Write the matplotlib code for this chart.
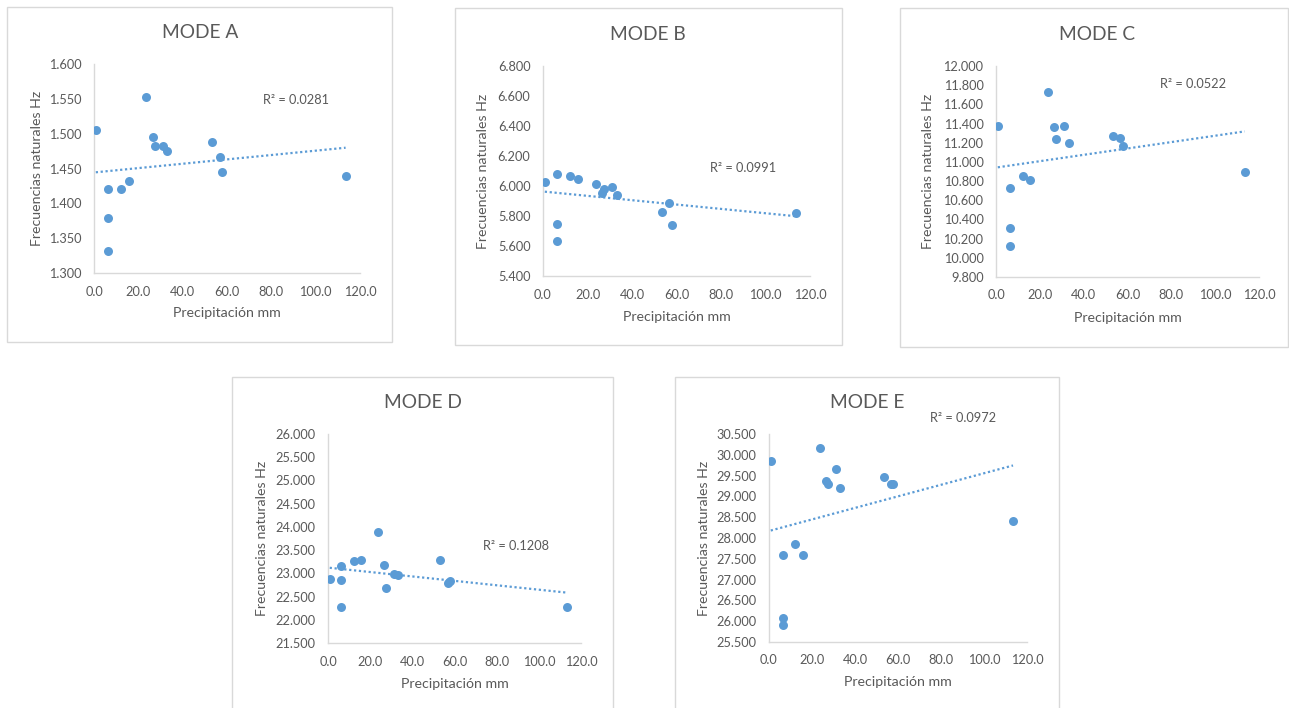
import numpy as np
import matplotlib
matplotlib.use("Agg")
import matplotlib.pyplot as plt
from matplotlib.patches import Rectangle
from matplotlib.ticker import FormatStrFormatter, MultipleLocator

# ---- data ----
precip = [0.8, 6.3, 6.3, 6.3, 12.2, 15.7, 23.6, 26.4, 27.6, 31.2, 33.1, 53.3, 56.7, 57.8, 113.5]
mode_a = [1.505, 1.420, 1.379, 1.331, 1.420, 1.432, 1.553, 1.495, 1.482, 1.482, 1.475, 1.488, 1.466, 1.445, 1.439]
mode_b = [6.028, 6.077, 5.750, 5.634, 6.068, 6.050, 6.014, 5.954, 5.983, 5.994, 5.939, 5.827, 5.890, 5.738, 5.821]
mode_c = [11.377, 10.730, 10.312, 10.124, 10.855, 10.810, 11.732, 11.360, 11.234, 11.370, 11.196, 11.269, 11.252, 11.161, 10.897]
mode_d = [22.877, 23.163, 22.855, 22.275, 23.271, 23.285, 23.887, 23.178, 22.676, 22.984, 22.963, 23.285, 22.800, 22.835, 22.275]
mode_e = [29.842, 27.603, 26.086, 25.917, 27.852, 27.603, 30.171, 29.376, 29.304, 29.649, 29.200, 29.473, 29.296, 29.296, 28.397]
titles = ["MODE A", "MODE B", "MODE C", "MODE D", "MODE E"]
r2_labels = ["R² = 0.0281", "R² = 0.0991", "R² = 0.0522", "R² = 0.1208", "R² = 0.0972"]
y_ranges = [(1.3, 1.6, 0.05), (5.4, 6.8, 0.2), (9.8, 12.0, 0.2), (21.5, 26.0, 0.5), (25.5, 30.5, 0.5)]
x_ticks = [0, 20, 40, 60, 80, 100, 120]
xlabel = "Precipitación mm"
ylabel = "Frecuencias naturales Hz"

plt.rcParams['font.family'] = ['Lato', 'DejaVu Sans']

W, H = 1289, 708
fig = plt.figure(figsize=(W / 100, H / 100), dpi=100)
fig.patch.set_facecolor("white")

def fx(x):
    return x / W

def fy(y):
    return 1 - y / H

# layout (pixel coords): panel border, axes box, title pos, r2 pos, ylabel x, xlabel y
panels = [
    dict(border=(7, 7, 392, 342), ax=(94, 64, 360, 273), title=(200, 33), r2=(263, 100), ylab=37, xlab=313),
    dict(border=(455, 8, 842, 345), ax=(543, 66, 810, 276), title=(648, 34), r2=(710, 168), ylab=483, xlab=317),
    dict(border=(900, 8, 1288, 347), ax=(996, 66, 1259, 277), title=(1097, 34), r2=(1160, 84), ylab=928, xlab=318),
    dict(border=(232, 377, 613, 712), ax=(328, 434, 581, 643), title=(423, 402), r2=(483, 546), ylab=262, xlab=684),
    dict(border=(675, 377, 1059, 712), ax=(769, 434, 1027, 642), title=(867, 402), r2=(930, 418), ylab=704, xlab=682),
]
series = [mode_a, mode_b, mode_c, mode_d, mode_e]

blue = "#5b9bd5"
txt = "#595959"
grid = "#d9d9d9"

for i, p in enumerate(panels):
    bx0, by0, bx1, by1 = p["border"]
    fig.patches.append(Rectangle((fx(bx0), fy(by1)), fx(bx1 - bx0), (by1 - by0) / H,
                                 transform=fig.transFigure, fill=False, edgecolor=grid, linewidth=1.0))
    x0, y0, x1, y1 = p["ax"]
    ax = fig.add_axes([fx(x0), fy(y1), fx(x1 - x0), (y1 - y0) / H])
    ax.set_facecolor("none")
    ymin, ymax, step = y_ranges[i]
    ax.set_ylim(ymin, ymax)
    ax.set_xlim(0, 120)
    ax.yaxis.set_major_locator(MultipleLocator(step))
    ax.set_xticks(x_ticks)
    ax.xaxis.set_major_formatter(FormatStrFormatter("%.1f"))
    ax.yaxis.set_major_formatter(FormatStrFormatter("%.3f"))
    for s in ["top", "right"]:
        ax.spines[s].set_visible(False)
    for s in ["left", "bottom"]:
        ax.spines[s].set_color(grid)
        ax.spines[s].set_linewidth(1.0)
    ax.tick_params(length=0, labelsize=9.2, labelcolor=txt)
    ax.tick_params(axis="x", pad=9)
    ax.tick_params(axis="y", pad=9)

    yv = series[i]
    ax.scatter(precip, yv, s=42, color=blue, zorder=3, linewidths=0)
    k, b = np.polyfit(precip, yv, 1)
    xs = np.array([min(precip), max(precip)])
    ax.plot(xs, k * xs + b, color=blue, linestyle=(0, (1, 1.2)), linewidth=1.6, zorder=2)

    fig.text(fx(p["title"][0]), fy(p["title"][1]), titles[i], ha="center", va="center",
             fontsize=13.8, color=txt)
    fig.text(fx(p["r2"][0]), fy(p["r2"][1]), r2_labels[i], ha="left", va="center",
             fontsize=9.2, color=txt)
    fig.text(fx(p["ylab"]), fy((y0 + y1) / 2), ylabel, ha="center", va="center",
             rotation=90, fontsize=10.2, color=txt)
    fig.text(fx((x0 + x1) / 2), fy(p["xlab"]), xlabel, ha="center", va="center",
             fontsize=10.2, color=txt)

fig.savefig("out.png", dpi=100, facecolor="white")
